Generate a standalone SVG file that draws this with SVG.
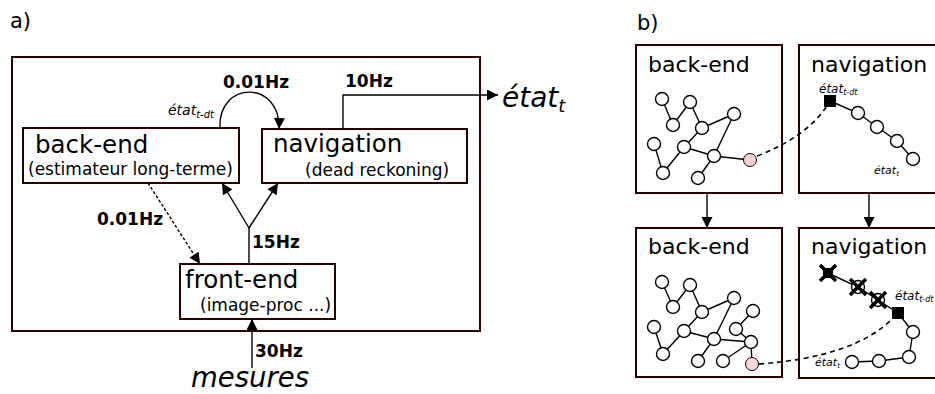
<svg xmlns="http://www.w3.org/2000/svg" width="935" height="394" viewBox="0 0 935 394">
<defs>
<style>
text{font-family:"DejaVu Sans","Liberation Sans",sans-serif;fill:#000}
.box{fill:#fff;stroke:#2b0000;stroke-width:2}
.ln{fill:none;stroke:#000;stroke-width:1.4}
.dash{fill:none;stroke:#000;stroke-width:1.4;stroke-dasharray:3,2}
.dash2{fill:none;stroke:#000;stroke-width:1.6;stroke-dasharray:5,4}
.hz{font-weight:bold;font-size:17px}
.it{font-style:italic}
.nd{fill:#fff;stroke:#000;stroke-width:1.4}
.pk{fill:#ffd5d5;stroke:#000;stroke-width:1}
.ed{stroke:#000;stroke-width:1.4;fill:none}
.x{stroke:#000;stroke-width:3.5;stroke-linecap:butt}
</style>
<marker id="ah" viewBox="0 0 10 10" refX="10" refY="5" markerWidth="12" markerHeight="11" markerUnits="userSpaceOnUse" orient="auto">
<path d="M0,0 L10,5 L0,10 z" fill="#000"/>
</marker>
</defs>
<rect width="935" height="394" fill="#fff"/>

<text x="10" y="28" font-size="21">a)</text>
<rect id="panel-a" class="box" x="12" y="57" width="468" height="274"/>

<g id="backend">
<rect class="box" x="23" y="128" width="216" height="55"/>
<text x="35" y="153" font-size="24.5">back-end</text>
<text x="28" y="175" font-size="17">(estimateur long-terme)</text>
</g>
<g id="navigation">
<rect class="box" x="262" y="129" width="205" height="54"/>
<text x="273" y="152" font-size="24.5">navigation</text>
<text x="305" y="176" font-size="17">(dead reckoning)</text>
</g>
<g id="frontend">
<rect class="box" x="180" y="264" width="155" height="55"/>
<text x="185" y="288" font-size="24.5">front-end</text>
<text x="200" y="311" font-size="17">(image-proc ...)</text>
</g>
<g id="etat-out">
<text x="502" y="107" font-size="28" class="it">état<tspan font-size="18" dy="5">t</tspan></text>
</g>
<g id="mesures">
<text x="191" y="387" font-size="27.5" class="it">mesures</text>
</g>

<g id="connectors-a">
<path class="ln" d="M220,128 C218,80 281,80 279,129" marker-end="url(#ah)"/>
<path class="ln" d="M343,129 V95 H498" marker-end="url(#ah)"/>
<path class="dash" d="M148,183 L200,264" marker-end="url(#ah)"/>
<path class="ln" d="M249,264 V228"/>
<path class="ln" d="M249,228 L222,183" marker-end="url(#ah)"/>
<path class="ln" d="M249,228 L278,183" marker-end="url(#ah)"/>
<path class="ln" d="M252,368 V319" marker-end="url(#ah)"/>
<text x="223" y="88" class="hz">0.01Hz</text>
<text x="168" y="115" font-size="14" class="it">état<tspan font-size="10" dy="3">t-dt</tspan></text>
<text x="345" y="87" class="hz">10Hz</text>
<text x="97" y="225" class="hz">0.01Hz</text>
<text x="252" y="248" class="hz">15Hz</text>
<text x="255" y="357" class="hz">30Hz</text>
</g>

<text x="637" y="30" font-size="21">b)</text>

<g id="backend-top">
<rect class="box" x="636" y="45" width="146" height="148"/>
<text x="648" y="72" font-size="22">back-end</text>
<g class="ed">
<line x1="662" y1="99" x2="673" y2="125"/>
<line x1="673" y1="125" x2="690" y2="102"/>
<line x1="690" y1="102" x2="702" y2="128"/>
<line x1="702" y1="128" x2="734" y2="114"/>
<line x1="734" y1="114" x2="714" y2="156"/>
<line x1="654" y1="144" x2="663" y2="173"/>
<line x1="663" y1="173" x2="684" y2="147"/>
<line x1="684" y1="147" x2="702" y2="128"/>
<line x1="684" y1="147" x2="714" y2="156"/>
<line x1="714" y1="156" x2="750" y2="160"/>
<line x1="714" y1="156" x2="698" y2="178"/>
</g>
<circle class="nd" cx="662" cy="99" r="6.5"/>
<circle class="nd" cx="690" cy="102" r="6.5"/>
<circle class="nd" cx="673" cy="125" r="6.5"/>
<circle class="nd" cx="702" cy="128" r="6.5"/>
<circle class="nd" cx="734" cy="114" r="6.5" stroke-width="2"/>
<circle class="nd" cx="654" cy="144" r="6.5"/>
<circle class="nd" cx="684" cy="147" r="6.5"/>
<circle class="nd" cx="714" cy="156" r="6.5"/>
<circle class="nd" cx="663" cy="173" r="6.5"/>
<circle class="nd" cx="698" cy="178" r="6.5"/>
<circle class="pk" cx="750" cy="160" r="6.5"/>
</g>

<g id="navigation-top">
<rect class="box" x="799" y="45" width="150" height="148"/>
<text x="811" y="72" font-size="22">navigation</text>
<text x="819" y="93" font-size="12" class="it">état<tspan font-size="8" dy="2">t-dt</tspan></text>
<text x="874" y="174" font-size="11" class="it">état<tspan font-size="7" dy="2">t</tspan></text>
<polyline class="ed" points="830,101 858,113 877,127 897,141 913,159"/>
<rect x="824" y="95" width="12" height="12" fill="#000"/>
<circle class="nd" cx="858" cy="113" r="6.5"/>
<circle class="nd" cx="877" cy="127" r="6.5"/>
<circle class="nd" cx="897" cy="141" r="6.5"/>
<circle class="nd" cx="913" cy="159" r="6.5"/>
</g>

<g id="backend-bottom">
<rect class="box" x="636" y="228" width="146" height="149"/>
<text x="648" y="254" font-size="22">back-end</text>
<g class="ed">
<line x1="662" y1="282" x2="673" y2="307"/>
<line x1="673" y1="307" x2="690" y2="285"/>
<line x1="690" y1="285" x2="702" y2="312"/>
<line x1="702" y1="312" x2="734" y2="298"/>
<line x1="734" y1="298" x2="714" y2="339"/>
<line x1="654" y1="327" x2="663" y2="354"/>
<line x1="663" y1="354" x2="684" y2="331"/>
<line x1="684" y1="331" x2="702" y2="312"/>
<line x1="684" y1="331" x2="714" y2="339"/>
<line x1="714" y1="339" x2="751" y2="342"/>
<line x1="714" y1="339" x2="698" y2="361"/>
<line x1="753" y1="311" x2="736" y2="329"/>
<line x1="736" y1="329" x2="751" y2="342"/>
<line x1="751" y1="342" x2="723" y2="361"/>
<line x1="751" y1="342" x2="752" y2="364"/>
</g>
<circle class="nd" cx="662" cy="282" r="6.5"/>
<circle class="nd" cx="690" cy="285" r="6.5"/>
<circle class="nd" cx="673" cy="307" r="6.5"/>
<circle class="nd" cx="702" cy="312" r="6.5"/>
<circle class="nd" cx="734" cy="298" r="6.5" stroke-width="2"/>
<circle class="nd" cx="654" cy="327" r="6.5"/>
<circle class="nd" cx="684" cy="331" r="6.5"/>
<circle class="nd" cx="714" cy="339" r="6.5"/>
<circle class="nd" cx="663" cy="354" r="6.5"/>
<circle class="nd" cx="698" cy="361" r="6.5"/>
<circle class="nd" cx="753" cy="311" r="6.5"/>
<circle class="nd" cx="736" cy="329" r="6.5"/>
<circle class="nd" cx="751" cy="342" r="6.5"/>
<circle class="nd" cx="723" cy="361" r="6.5"/>
<circle class="pk" cx="752" cy="364" r="6.5"/>
</g>

<g id="navigation-bottom">
<rect class="box" x="799" y="228" width="150" height="150"/>
<text x="811" y="254" font-size="22">navigation</text>
<text x="895" y="300" font-size="12" class="it">état<tspan font-size="8" dy="2">t-dt</tspan></text>
<text x="815" y="366" font-size="11" class="it">état<tspan font-size="7" dy="2">t</tspan></text>
<polyline class="ed" points="828,273 858,287 878,300 898,313 913,332 909,357 879,361 852,362"/>
<rect x="823" y="268" width="10" height="10" fill="#000"/>
<line class="x" x1="820" y1="265" x2="836" y2="281" stroke-width="5"/>
<line class="x" x1="836" y1="265" x2="820" y2="281" stroke-width="5"/>
<circle class="nd" cx="858" cy="287" r="6.5"/>
<line class="x" x1="850" y1="279" x2="866" y2="295"/>
<line class="x" x1="866" y1="279" x2="850" y2="295"/>
<circle class="nd" cx="878" cy="300" r="6.5"/>
<line class="x" x1="870" y1="292" x2="886" y2="308"/>
<line class="x" x1="886" y1="292" x2="870" y2="308"/>
<rect x="892" y="307" width="12" height="12" fill="#000"/>
<circle class="nd" cx="913" cy="332" r="6.5"/>
<circle class="nd" cx="909" cy="357" r="6.5"/>
<circle class="nd" cx="879" cy="361" r="6.5"/>
<circle class="nd" cx="852" cy="362" r="6.5"/>
</g>

<g id="connectors-b">
<path class="ln" d="M707,193 V228" marker-end="url(#ah)"/>
<path class="ln" d="M869,193 V228" marker-end="url(#ah)"/>
<path class="dash2" d="M757,156 Q805,138 827,106"/>
<path class="dash2" d="M759,364 Q855,357 893,318"/>
</g>
</svg>
